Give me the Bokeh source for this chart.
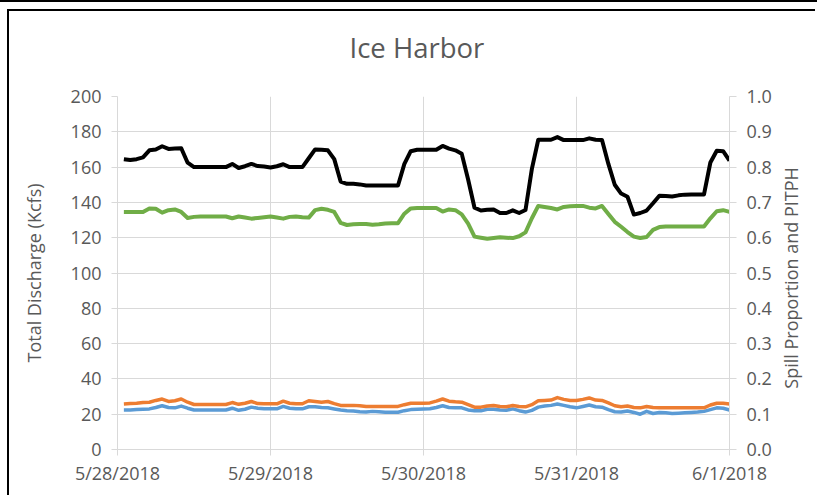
import math
from bokeh.plotting import figure
from bokeh.models import Range1d, LinearAxis, FixedTicker, PrintfTickFormatter, Title
from bokeh.embed import file_html
from bokeh.resources import INLINE

# ---- data (hourly, 5/28/2018 01:00 .. 6/1/2018 00:00) ----
hours = list(range(1, 97))

total_discharge = [
    164.5, 164, 164.5, 165.5, 169.5, 170, 171.8, 170.3, 170.5, 170.7, 162.5, 160,
    160, 160, 160, 160, 160, 161.8, 159.5, 160.5, 161.8, 160.6, 160.3, 159.8,
    160.5, 161.6, 160, 160, 160, 165, 170, 169.8, 169.5, 164.5, 151.8, 150.5,
    150.5, 150.2, 149.6, 149.6, 149.6, 149.6, 149.6, 149.6, 161.8, 169, 169.8, 169.8,
    169.8, 169.8, 172, 170.5, 169.5, 167.5, 153, 137, 135.4, 135.8, 136, 134,
    134, 135.5, 134, 135.7, 159, 175.5, 175.5, 175.5, 177, 175.3, 175.3, 175.3,
    175.3, 176.3, 175.5, 175.3, 161.8, 150, 145, 143.2, 133.1, 134, 135.4, 139.5,
    143.8, 143.6, 143.3, 144, 144.4, 144.5, 144.5, 144.5, 162.6, 169.3, 169, 163.7,
]

spill_proportion = [
    0.673, 0.673, 0.673, 0.673, 0.683, 0.682, 0.671, 0.678, 0.680, 0.673, 0.656, 0.659,
    0.660, 0.660, 0.660, 0.660, 0.660, 0.655, 0.660, 0.657, 0.654, 0.656, 0.658, 0.660,
    0.657, 0.654, 0.659, 0.660, 0.658, 0.657, 0.678, 0.682, 0.679, 0.673, 0.642, 0.636,
    0.638, 0.639, 0.639, 0.637, 0.638, 0.640, 0.641, 0.641, 0.668, 0.683, 0.684, 0.684,
    0.684, 0.684, 0.674, 0.680, 0.678, 0.666, 0.640, 0.603, 0.600, 0.597, 0.599, 0.601,
    0.600, 0.599, 0.604, 0.615, 0.655, 0.690, 0.687, 0.684, 0.680, 0.687, 0.689, 0.690,
    0.690, 0.685, 0.683, 0.690, 0.667, 0.645, 0.631, 0.616, 0.603, 0.599, 0.602, 0.622,
    0.630, 0.632, 0.632, 0.632, 0.632, 0.632, 0.632, 0.632, 0.655, 0.675, 0.678, 0.673,
]

pitph_orange = [
    0.129, 0.130, 0.131, 0.133, 0.134, 0.139, 0.143, 0.136, 0.138, 0.143, 0.134, 0.1275,
    0.1275, 0.1275, 0.1275, 0.1275, 0.1275, 0.133, 0.128, 0.131, 0.136, 0.130, 0.1295, 0.1295,
    0.1295, 0.137, 0.131, 0.1295, 0.1295, 0.138, 0.136, 0.134, 0.136, 0.130, 0.125, 0.125,
    0.125, 0.124, 0.122, 0.122, 0.122, 0.122, 0.122, 0.122, 0.127, 0.131, 0.131, 0.131,
    0.132, 0.137, 0.143, 0.137, 0.135, 0.134, 0.127, 0.120, 0.120, 0.123, 0.1246, 0.122,
    0.121, 0.1246, 0.122, 0.121, 0.127, 0.138, 0.139, 0.140, 0.147, 0.142, 0.139, 0.139,
    0.142, 0.146, 0.140, 0.139, 0.132, 0.124, 0.121, 0.123, 0.119, 0.118, 0.122, 0.119,
    0.118, 0.118, 0.118, 0.118, 0.118, 0.118, 0.118, 0.118, 0.126, 0.131, 0.131, 0.129,
]

pitph_blue = [
    0.112, 0.112, 0.113, 0.114, 0.115, 0.119, 0.124, 0.119, 0.118, 0.123, 0.117, 0.112,
    0.112, 0.112, 0.112, 0.112, 0.112, 0.117, 0.111, 0.114, 0.120, 0.117, 0.1153, 0.1153,
    0.1153, 0.122, 0.117, 0.1153, 0.1153, 0.121, 0.121, 0.119, 0.118, 0.115, 0.112, 0.110,
    0.109, 0.107, 0.106, 0.108, 0.107, 0.1057, 0.1057, 0.1057, 0.110, 0.113, 0.114, 0.115,
    0.1153, 0.119, 0.124, 0.119, 0.118, 0.118, 0.112, 0.110, 0.110, 0.114, 0.114, 0.112,
    0.111, 0.115, 0.110, 0.106, 0.111, 0.120, 0.123, 0.125, 0.129, 0.125, 0.121, 0.118,
    0.122, 0.126, 0.121, 0.120, 0.113, 0.107, 0.106, 0.109, 0.105, 0.100, 0.108, 0.102,
    0.105, 0.104, 0.102, 0.103, 0.104, 0.105, 0.106, 0.108, 0.113, 0.118, 0.117, 0.112,
]

day_ticks = [0, 24, 48, 72, 96]
day_labels = ["5/28/2018", "5/29/2018", "5/30/2018", "5/31/2018", "6/1/2018"]
left_ticks = [0, 20, 40, 60, 80, 100, 120, 140, 160, 180, 200]
right_ticks = [0.0, 0.1, 0.2, 0.3, 0.4, 0.5, 0.6, 0.7, 0.8, 0.9, 1.0]

FONT = "Open Sans"
TXT = "#595959"
GRID = "#d9d9d9"
FS = "18px"

p = figure(
    width=808, height=486,
    x_range=Range1d(0, 96), y_range=Range1d(0, 200),
    output_backend="svg", toolbar_location=None,
    min_border_left=108, min_border_right=88, min_border_top=85, min_border_bottom=48,
    title="Ice Harbor",
)
p.extra_y_ranges = {"right": Range1d(0, 1)}
p.outline_line_color = None
p.background_fill_color = "white"
p.border_fill_color = "white"

# frame lines of the surrounding document box
p.styles = {
    "margin-left": "9px",
    "margin-top": "11px",
    "box-shadow": "-2px -2px 0 0 black, 0 0 0 9px white, 0 0 0 11px black",
}

# title
p.title.text_font = FONT
p.title.text_font_size = "27.5px"
p.title.text_font_style = "normal"
p.title.text_color = TXT
p.title.align = "left"
p.title.offset = 232
p.title.standoff = 10
# empty spacer between the title and the plot area
p.add_layout(Title(text="\u00a0", text_font_size="2px", standoff=22), "above")

# grids
p.xgrid.ticker = FixedTicker(ticks=day_ticks)
p.ygrid.ticker = FixedTicker(ticks=left_ticks)
for g in (p.xgrid, p.ygrid):
    g.grid_line_color = GRID
    g.grid_line_width = 1

def style_axis(ax, standoff):
    ax.major_label_text_font = FONT
    ax.major_label_text_font_size = FS
    ax.major_label_text_color = TXT
    ax.axis_label_text_font = FONT
    ax.axis_label_text_font_size = FS
    ax.axis_label_text_font_style = "normal"
    ax.axis_label_text_color = TXT
    ax.axis_line_color = GRID
    ax.major_tick_line_color = GRID
    ax.major_tick_in = 0
    ax.major_tick_out = 6
    ax.minor_tick_line_color = None
    ax.major_label_standoff = standoff

# x axis
xa = p.xaxis[0]
xa.ticker = FixedTicker(ticks=day_ticks)
xa.major_label_overrides = {t: lab for t, lab in zip(day_ticks, day_labels)}
style_axis(xa, 5)

# left axis
ya = p.yaxis[0]
ya.ticker = FixedTicker(ticks=left_ticks)
ya.axis_label = "Total Discharge (Kcfs)"
ya.axis_label_standoff = 22
style_axis(ya, 10)

# right axis (label reads bottom-to-top)
ra = LinearAxis(y_range_name="right", ticker=FixedTicker(ticks=right_ticks),
                formatter=PrintfTickFormatter(format="%.1f"))
style_axis(ra, 10)
ra.major_tick_out = 7
ra.axis_label = "\u00a0" * 13 + "Spill Proportion and PITPH"
ra.axis_label_standoff = 16
ra.axis_label_orientation = math.pi / 2
try:
    ra.axis_label_align = "start"
except Exception:
    pass
p.add_layout(ra, "right")

# lines
p.line(hours, pitph_blue, y_range_name="right", line_color="#5b9bd5",
       line_width=3.5, line_join="round")
p.line(hours, pitph_orange, y_range_name="right", line_color="#ed7d31",
       line_width=3.5, line_join="round")
p.line(hours, spill_proportion, y_range_name="right", line_color="#70ad47",
       line_width=4, line_join="round")
p.line(hours, total_discharge, line_color="black", line_width=4, line_join="round")

open("out.html", "w").write(file_html(p, INLINE))
